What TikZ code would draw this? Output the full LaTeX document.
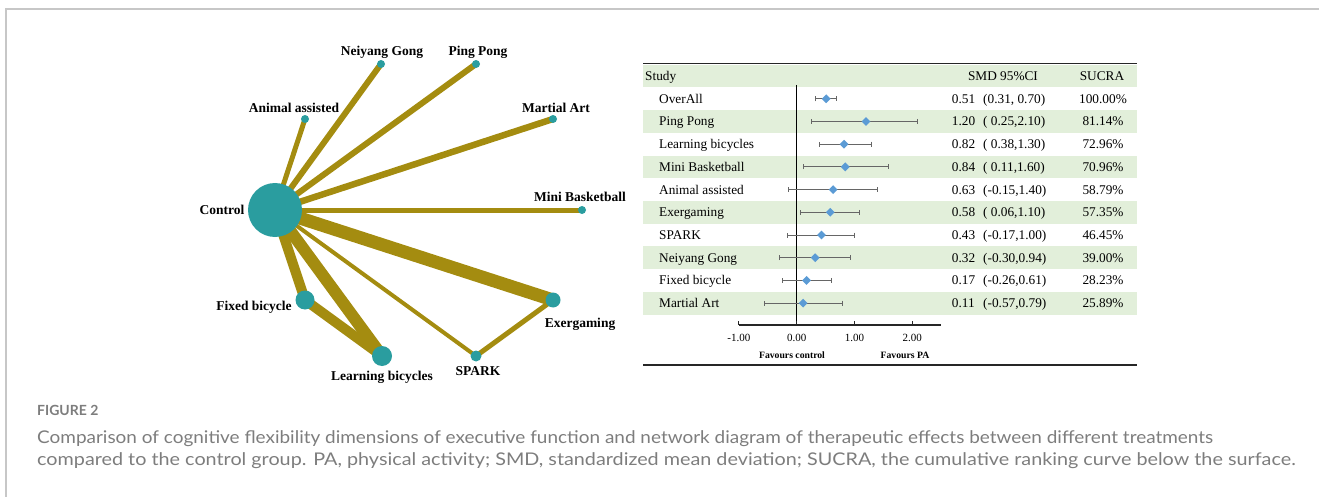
\documentclass[tikz,border=0pt]{standalone}
\usepackage{fontspec}
\setmainfont{Liberation Serif}
\newfontfamily\capfont{Lato}
\usetikzlibrary{shapes.geometric,arrows.meta,backgrounds}

\definecolor{edgeol}{RGB}{164,140,16}
\definecolor{trtteal}{RGB}{42,157,159}
\definecolor{rowgreen}{RGB}{226,239,218}
\definecolor{diablue}{RGB}{91,155,213}
\definecolor{capgray}{RGB}{125,125,125}

\begin{document}
\begin{tikzpicture}[x=1pt, y=-1pt,
    trt/.style={circle, fill=trtteal, inner sep=0pt},
    lnk/.style={draw=edgeol},
    netlbl/.style={font=\bfseries\fontsize{13.5}{16}\selectfont, inner sep=0pt, text height=9pt, text depth=0pt},
    tbl/.style={font=\fontsize{13.3}{16}\selectfont, inner sep=0pt, text height=9pt, text depth=0pt},
    est/.style={diamond, fill=diablue, inner sep=0pt, minimum size=9pt},
    ci/.style={draw=black!60, line width=0.8pt, {Bar[width=5pt]}-{Bar[width=5pt]}},
    axlbl/.style={font=\fontsize{11}{13}\selectfont, inner sep=0pt, text height=7.5pt, text depth=0pt},
    favlbl/.style={font=\bfseries\fontsize{9.7}{12}\selectfont, inner sep=0pt, text height=6.5pt, text depth=0pt},
    caplbl/.style={font=\capfont\fontsize{17.5}{20}\selectfont, text=capgray, inner sep=0pt, anchor=west}]
    \useasboundingbox (0,0) rectangle (1319,497);
    % page frame
    \draw[black!22, line width=1.5pt] (6,497) -- (6,9) -- (1319,9);

    % treatments of the network
    \foreach \n/\x/\y/\d in {ctrl/275/210/54, ng/381/64/8, pp/476/64/8, aa/305/119/8, ma/553/119/8,
                            mb/582/210/8, ex/553/300/15, sp/476/356/11, lb/382/356/20, fb/305/300/19} {
        \node[trt, minimum size=\d pt] (\n) at (\x,\y) {};
    }
    % direct comparisons, width = number of studies
    \begin{scope}[on background layer]
        \foreach \a/\b/\w in {ctrl/aa/5, ctrl/ng/6, ctrl/pp/6, ctrl/ma/6.5, ctrl/mb/5, ctrl/ex/13,
                              ctrl/sp/4, ctrl/lb/12, ctrl/fb/10, fb/lb/10, sp/ex/5} {
            \draw[lnk, line width=\w pt] (\a.center) -- (\b.center);
        }
    \end{scope}
    % treatment names
    \foreach \n/\x/\y/\t in {ctrl/222/210/Control, ng/382/51/Neiyang Gong, pp/478/51/Ping Pong,
                            aa/294/108/Animal assisted, ma/556/108/Martial Art, mb/580/197/Mini Basketball,
                            fb/254/306/Fixed bicycle, ex/580/323/Exergaming, lb/382/376/Learning bicycles,
                            sp/478/371/SPARK} {
        \node[netlbl] (l\n) at (\x,\y) {\t};
    }

    % forest plot: shaded rows and rules
    \fill[rowgreen] (643,65) rectangle (1137,87.5);
    \foreach \i in {2,4,...,10} {
        \fill[rowgreen] (643,{87.5+22.7*(\i-1)}) rectangle (1137,{87.5+22.7*\i});
    }
    \draw[black!85, line width=1.5pt] (643,63.5) -- (1137,63.5);
    \draw[black!85, line width=1.5pt] (643,365) -- (1137,365);

    % header
    \node[tbl, anchor=west] (hstudy) at (645,76) {Study};
    \node[tbl] (hsmd) at (1003,76) {SMD 95\%CI};
    \node[tbl] (hsucra) at (1102,76) {SUCRA};

    % null line and axis
    \draw[black, line width=1.1pt] (796.7,85) -- (796.7,325);
    \draw[black!85, line width=1.1pt] (739,325) -- (941,325);
    \foreach \v [count=\k] in {-1,0,1,2} {
        \draw[black!85, line width=1.1pt] ({796.7+57.8*(\v)},325) -- ({796.7+57.8*(\v)},321);
        \node[axlbl] (t\k) at ({796.7+57.8*(\v)},338) {\v.00};
    }
    \node[favlbl] (fctrl) at (792,355) {Favours control};
    \node[favlbl] (fpa) at (905,355) {Favours PA};

    % studies: estimate, interval, ranking
    \foreach \i/\name/\m/\lo/\hi/\ci/\s in {
            1/OverAll/0.51/0.31/0.70/{(0.31, 0.70)}/100.00,
            2/Ping Pong/1.20/0.25/2.10/{( 0.25,2.10)}/81.14,
            3/Learning bicycles/0.82/0.38/1.30/{( 0.38,1.30)}/72.96,
            4/Mini Basketball/0.84/0.11/1.60/{( 0.11,1.60)}/70.96,
            5/Animal assisted/0.63/-0.15/1.40/{(-0.15,1.40)}/58.79,
            6/Exergaming/0.58/0.06/1.10/{( 0.06,1.10)}/57.35,
            7/SPARK/0.43/-0.17/1.00/{(-0.17,1.00)}/46.45,
            8/Neiyang Gong/0.32/-0.30/0.94/{(-0.30,0.94)}/39.00,
            9/Fixed bicycle/0.17/-0.26/0.61/{(-0.26,0.61)}/28.23,
            10/Martial Art/0.11/-0.57/0.79/{(-0.57,0.79)}/25.89} {
        \pgfmathsetmacro\yy{98.8+22.7*(\i-1)}
        \node[tbl, anchor=west] (s\i) at (659,\yy) {\name};
        \draw[ci] ({796.7+57.8*(\lo)},\yy) -- ({796.7+57.8*(\hi)},\yy);
        \node[est] (e\i) at ({796.7+57.8*(\m)},\yy) {};
        \node[tbl, anchor=west] (m\i) at (951.7,\yy) {\m};
        \node[tbl, anchor=west] (c\i) at (983,\yy) {\ci};
        \node[tbl] (r\i) at (1103,\yy) {\s\%};
    }

    % caption
    \node[caplbl, font=\capfont\bfseries\fontsize{14}{16}\selectfont] (fig) at (37,410) {FIGURE 2};
    \node[caplbl] (cap1) at (37,439) {\scalebox{1.083}[1]{Comparison of cognitive flexibility dimensions of executive function and network diagram of therapeutic effects between different treatments}};
    \node[caplbl] (cap2) at (37,461) {\scalebox{1.13}[1]{compared to the control group. PA, physical activity; SMD, standardized mean deviation; SUCRA, the cumulative ranking curve below the surface.}};
\end{tikzpicture}
\end{document}
